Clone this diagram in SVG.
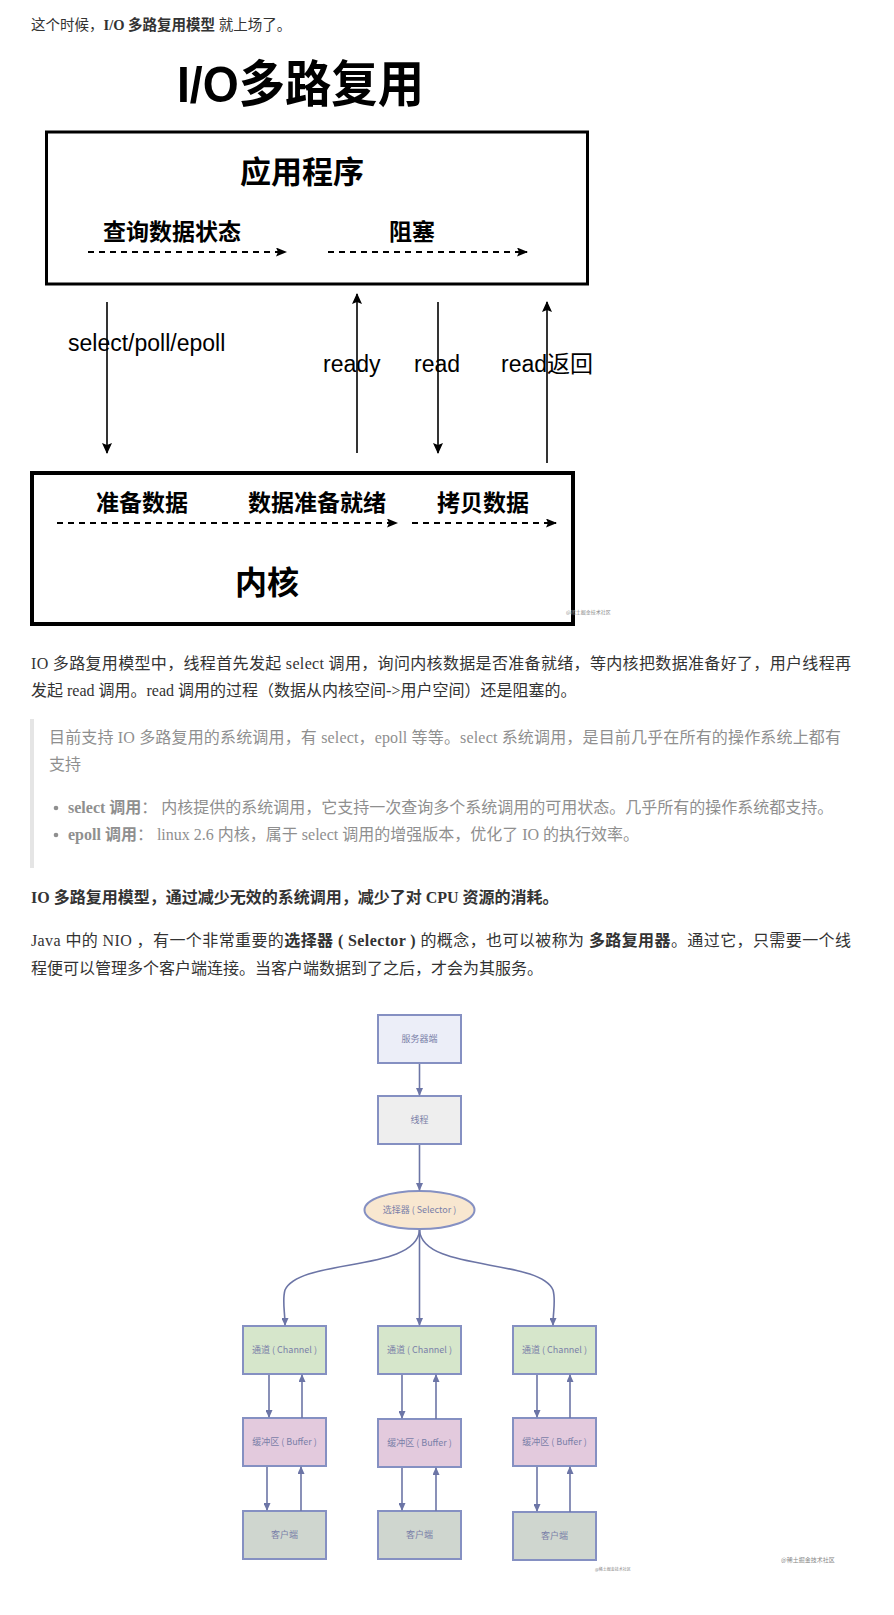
<svg xmlns="http://www.w3.org/2000/svg" width="894" height="1615" viewBox="0 0 894 1615">
<style>
.body{font-family:"Liberation Serif","Noto Sans CJK SC",serif;font-size:16px;fill:#333}
.quote{font-family:"Liberation Serif","Noto Sans CJK SC",serif;font-size:16px;fill:#8f8f8f}
.b{font-weight:bold}
.dg{font-family:"Liberation Sans","Noto Sans CJK SC",sans-serif;fill:#000}
.dgb{font-family:"Liberation Sans","Noto Sans CJK SC",sans-serif;font-weight:bold;fill:#000}
.lbl{font-family:"Liberation Sans","Noto Sans CJK SC",sans-serif;font-size:23px;fill:#000}
.box{fill:#fff;stroke:#000}
.dash{stroke:#000;stroke-width:2;stroke-dasharray:6 5;fill:none}
.solid{stroke:#000;stroke-width:1.6;fill:none}
.nd{stroke:#8590c2;stroke-width:2}
.nt{font-family:"Noto Sans CJK SC",sans-serif;font-size:9px;fill:#7a80a8;text-anchor:middle}
.cn{stroke:#6c75a6;stroke-width:1.6;fill:none}
.wm{font-family:"Noto Sans CJK SC",sans-serif;fill:#888}
</style>
<defs>
<marker id="ah" markerWidth="11" markerHeight="9" refX="10" refY="4.5" orient="auto" markerUnits="userSpaceOnUse"><path d="M0,0 L11,4.5 L0,9 L2,4.5 Z" fill="#000"/></marker>
<marker id="ah2" markerWidth="11" markerHeight="10" refX="10" refY="5" orient="auto" markerUnits="userSpaceOnUse"><path d="M0,0 L11,5 L0,10 L2,5 Z" fill="#000"/></marker>
<marker id="bh" markerWidth="8" markerHeight="7" refX="7" refY="3.5" orient="auto" markerUnits="userSpaceOnUse"><path d="M0,0 L8,3.5 L0,7 Z" fill="#6c75a6"/></marker>
</defs>

<rect width="894" height="1615" fill="#fff"/>

<!-- intro text -->
<g id="intro">
<text class="body" x="31" y="30" style="font-size:14.5px">这个时候，<tspan class="b">I/O 多路复用模型</tspan> 就上场了。</text>
</g>

<!-- top diagram -->
<g id="title">
<text class="dgb" x="177" y="102" font-size="50" textLength="247" lengthAdjust="spacingAndGlyphs">I/O多路复用</text>
</g>

<g id="app">
<rect class="box" x="46.5" y="132" width="541" height="152" stroke-width="3"/>
<text class="dgb" x="302" y="183" font-size="31" text-anchor="middle">应用程序</text>
<text class="dgb" x="103" y="240" font-size="23">查询数据状态</text>
<text class="dgb" x="389" y="240" font-size="23">阻塞</text>
</g>

<g id="kernel">
<rect class="box" x="32" y="473" width="541" height="151" stroke-width="4"/>
<text class="dgb" x="96" y="511" font-size="23">准备数据</text>
<text class="dgb" x="248" y="511" font-size="23">数据准备就绪</text>
<text class="dgb" x="437" y="511" font-size="23">拷贝数据</text>
<text class="dgb" x="267" y="594" font-size="32" text-anchor="middle">内核</text>
<text class="wm" x="566" y="614" font-size="5">@稀土掘金技术社区</text>
</g>

<g id="connectors">
<line class="dash" x1="88" y1="252" x2="286" y2="252" marker-end="url(#ah)"/>
<line class="dash" x1="328" y1="252" x2="527" y2="252" marker-end="url(#ah)"/>
<line class="dash" x1="57" y1="523" x2="397" y2="523" marker-end="url(#ah)"/>
<line class="dash" x1="412" y1="523" x2="556" y2="523" marker-end="url(#ah)"/>
<line class="solid" x1="107" y1="302" x2="107" y2="453" marker-end="url(#ah2)"/>
<line class="solid" x1="357" y1="453" x2="357" y2="294" marker-end="url(#ah2)"/>
<line class="solid" x1="438" y1="302" x2="438" y2="453" marker-end="url(#ah2)"/>
<line class="solid" x1="547" y1="463" x2="547" y2="302" marker-end="url(#ah2)"/>
</g>

<g id="labels">
<text class="lbl" x="68" y="351">select/poll/epoll</text>
<text class="lbl" x="323" y="372">ready</text>
<text class="lbl" x="414" y="372">read</text>
<text class="lbl" x="501" y="372">read返回</text>
</g>

<!-- paragraphs -->
<g id="para1">
<text class="body" x="31" y="669" textLength="820" lengthAdjust="spacing">IO 多路复用模型中，线程首先发起 select 调用，询问内核数据是否准备就绪，等内核把数据准备好了，用户线程再</text>
<text class="body" x="31" y="696">发起 read 调用。read 调用的过程（数据从内核空间-&gt;用户空间）还是阻塞的。</text>
</g>

<g id="quote">
<rect x="30" y="719" width="4" height="149" fill="#e5e5e5"/>
<text class="quote" x="49" y="743" textLength="792" lengthAdjust="spacing">目前支持 IO 多路复用的系统调用，有 select，epoll 等等。select 系统调用，是目前几乎在所有的操作系统上都有</text>
<text class="quote" x="49" y="770">支持</text>
<circle cx="56" cy="808" r="2.3" fill="#8f8f8f"/>
<text class="quote" x="68" y="813"><tspan class="b">select 调用</tspan>： 内核提供的系统调用，它支持一次查询多个系统调用的可用状态。几乎所有的操作系统都支持。</text>
<circle cx="56" cy="835" r="2.3" fill="#8f8f8f"/>
<text class="quote" x="68" y="840"><tspan class="b">epoll 调用</tspan>：  linux 2.6 内核，属于 select 调用的增强版本，优化了 IO 的执行效率。</text>
</g>

<g id="para2">
<text class="body b" x="31" y="903">IO 多路复用模型，通过减少无效的系统调用，减少了对 CPU 资源的消耗。</text>
</g>

<g id="para3">
<text class="body" x="31" y="946" textLength="820" lengthAdjust="spacing">Java 中的 NIO ，有一个非常重要的<tspan class="b">选择器 ( Selector )</tspan> 的概念，也可以被称为 <tspan class="b">多路复用器</tspan>。通过它，只需要一个线</text>
<text class="body" x="31" y="974">程便可以管理多个客户端连接。当客户端数据到了之后，才会为其服务。</text>
</g>

<!-- bottom diagram -->
<g id="server">
<rect class="nd" x="378" y="1015" width="83" height="48" fill="#eceef8"/>
<text class="nt" x="419.5" y="1042">服务器端</text>
</g>
<g id="thread">
<rect class="nd" x="378" y="1096" width="83" height="48" fill="#eeeeee"/>
<text class="nt" x="419.5" y="1123">线程</text>
</g>
<g id="selector">
<ellipse class="nd" cx="419.5" cy="1210" rx="55" ry="19" fill="#f8e7d0"/>
<text class="nt" x="419.5" y="1213">选择器 ( Selector )</text>
</g>
<g id="channel1">
<rect class="nd" x="243" y="1326" width="83" height="48" fill="#d6e6cb"/>
<text class="nt" x="284.5" y="1353">通道 ( Channel )</text>
</g>
<g id="channel2">
<rect class="nd" x="378" y="1326" width="83" height="48" fill="#d6e6cb"/>
<text class="nt" x="419.5" y="1353">通道 ( Channel )</text>
</g>
<g id="channel3">
<rect class="nd" x="513" y="1326" width="83" height="48" fill="#d6e6cb"/>
<text class="nt" x="554.5" y="1353">通道 ( Channel )</text>
</g>
<g id="buffer1">
<rect class="nd" x="243" y="1418" width="83" height="48" fill="#e3cadd"/>
<text class="nt" x="284.5" y="1445">缓冲区 ( Buffer )</text>
</g>
<g id="buffer2">
<rect class="nd" x="378" y="1419" width="83" height="48" fill="#e3cadd"/>
<text class="nt" x="419.5" y="1446">缓冲区 ( Buffer )</text>
</g>
<g id="buffer3">
<rect class="nd" x="513" y="1418" width="83" height="48" fill="#e3cadd"/>
<text class="nt" x="554.5" y="1445">缓冲区 ( Buffer )</text>
</g>
<g id="client1">
<rect class="nd" x="243" y="1511" width="83" height="48" fill="#cfd6cf"/>
<text class="nt" x="284.5" y="1538">客户端</text>
</g>
<g id="client2">
<rect class="nd" x="378" y="1511" width="83" height="48" fill="#cfd6cf"/>
<text class="nt" x="419.5" y="1538">客户端</text>
</g>
<g id="client3">
<rect class="nd" x="513" y="1512" width="83" height="48" fill="#cfd6cf"/>
<text class="nt" x="554.5" y="1539">客户端</text>
</g>

<g id="connectors2">
<line class="cn" x1="419.5" y1="1064" x2="419.5" y2="1095" marker-end="url(#bh)"/>
<line class="cn" x1="419.5" y1="1145" x2="419.5" y2="1190" marker-end="url(#bh)"/>
<path class="cn" d="M419.5,1230 C417,1272 300,1258 285,1290 C282,1300 285,1312 285,1325" marker-end="url(#bh)"/>
<line class="cn" x1="419.5" y1="1230" x2="419.5" y2="1325" marker-end="url(#bh)"/>
<path class="cn" d="M419.5,1230 C422,1272 539,1258 553,1290 C556,1300 553,1312 553,1325" marker-end="url(#bh)"/>
<line class="cn" x1="269" y1="1375" x2="269" y2="1417" marker-end="url(#bh)"/>
<line class="cn" x1="302" y1="1418" x2="302" y2="1375" marker-end="url(#bh)"/>
<line class="cn" x1="402" y1="1375" x2="402" y2="1418" marker-end="url(#bh)"/>
<line class="cn" x1="436" y1="1419" x2="436" y2="1375" marker-end="url(#bh)"/>
<line class="cn" x1="537" y1="1375" x2="537" y2="1417" marker-end="url(#bh)"/>
<line class="cn" x1="570" y1="1418" x2="570" y2="1375" marker-end="url(#bh)"/>
<line class="cn" x1="267" y1="1467" x2="267" y2="1510" marker-end="url(#bh)"/>
<line class="cn" x1="301" y1="1511" x2="301" y2="1467" marker-end="url(#bh)"/>
<line class="cn" x1="402" y1="1468" x2="402" y2="1510" marker-end="url(#bh)"/>
<line class="cn" x1="436" y1="1511" x2="436" y2="1468" marker-end="url(#bh)"/>
<line class="cn" x1="537" y1="1467" x2="537" y2="1511" marker-end="url(#bh)"/>
<line class="cn" x1="570" y1="1512" x2="570" y2="1467" marker-end="url(#bh)"/>
</g>

<g id="watermarks">
<text class="wm" x="595" y="1571" font-size="4">@稀土掘金技术社区</text>
<text class="wm" x="781" y="1562" font-size="6" fill="#aaa">@稀土掘金技术社区</text>
</g>
</svg>
